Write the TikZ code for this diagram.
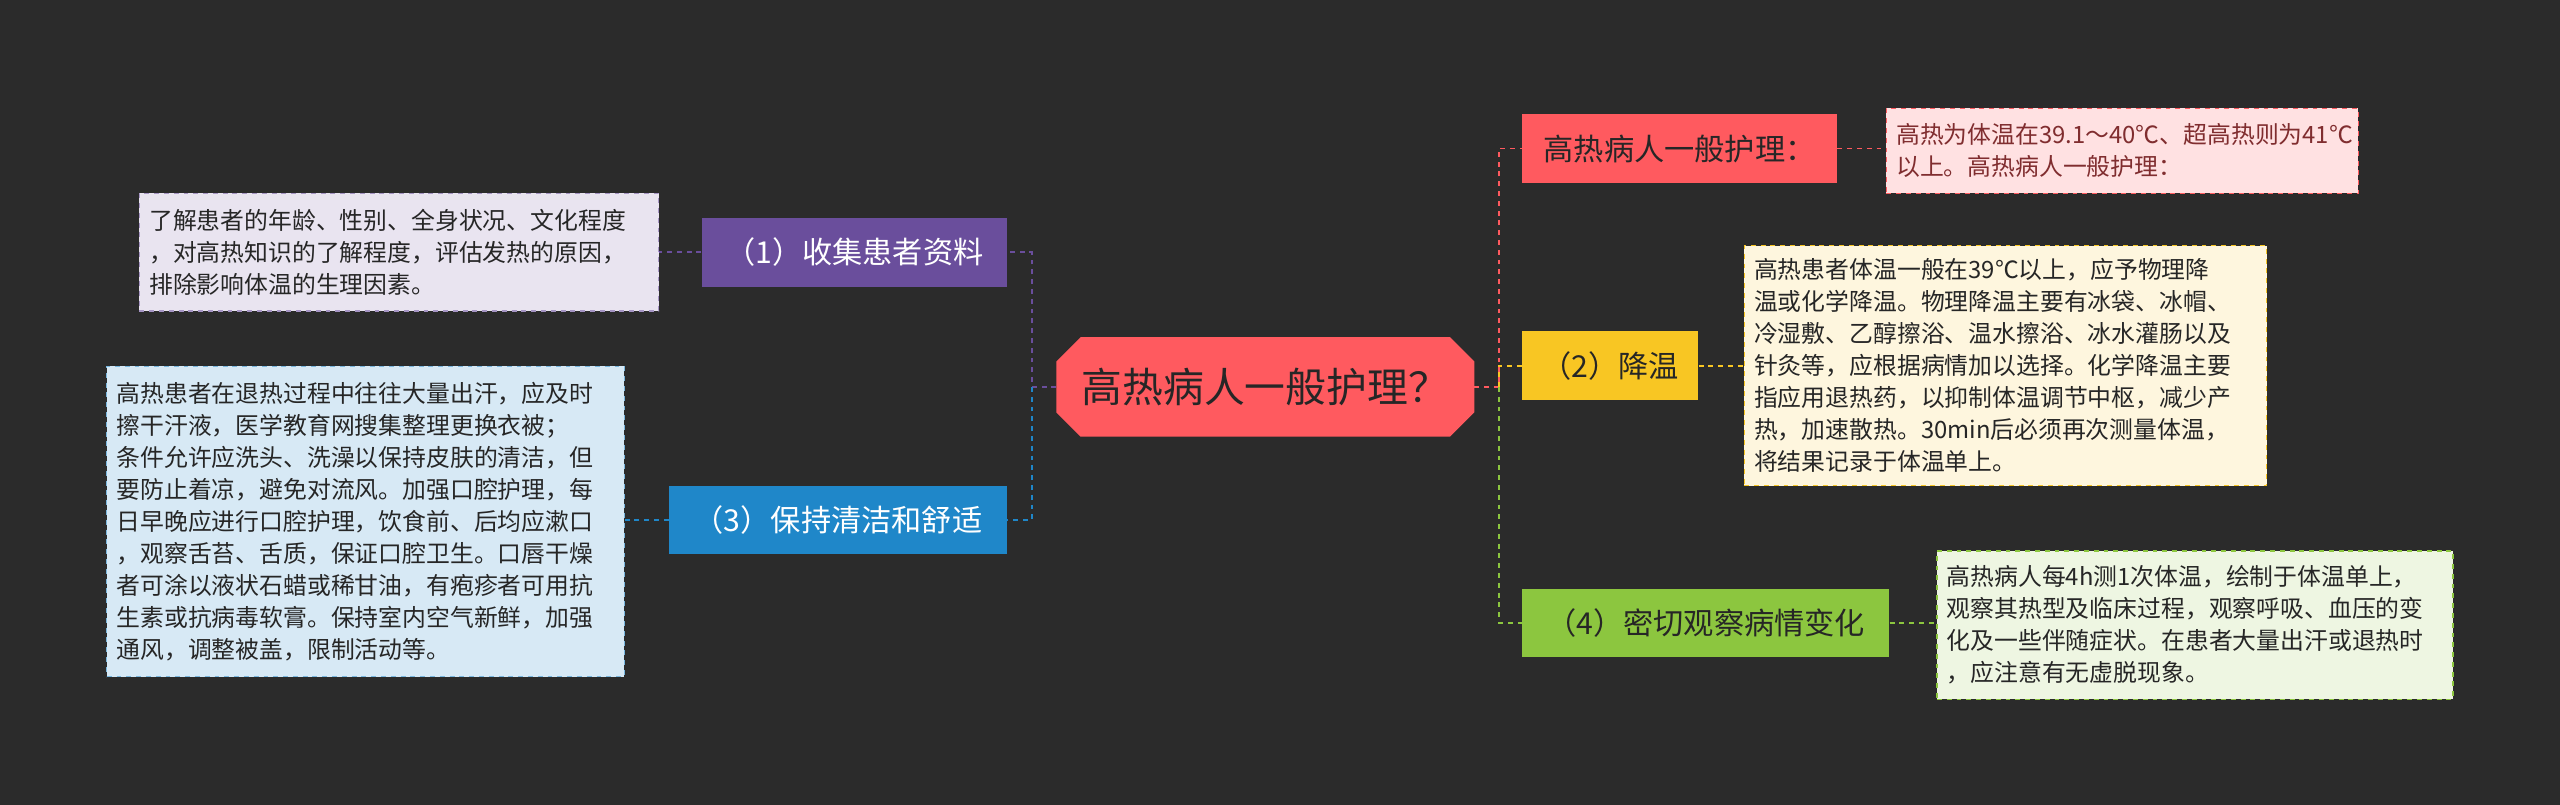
\documentclass[tikz,border=0pt]{standalone}
\usepackage{fontspec}
\setmainfont{Noto Sans CJK SC}
\usetikzlibrary{shapes.misc}
\definecolor{bg}{HTML}{2B2B2B}
\definecolor{cred}{HTML}{FF5A5F}
\definecolor{cyel}{HTML}{F8C623}
\definecolor{cgrn}{HTML}{8CC63F}
\definecolor{cpur}{HTML}{6A4E9C}
\definecolor{cblu}{HTML}{1F87C9}
\tikzset{
 br/.style={minimum height=42pt,inner sep=4pt,font=\fontsize{18.5}{20}\selectfont,anchor=west},
 lf/.style={draw,dashed,line width=0.8pt,align=left,inner xsep=6pt,inner ysep=6pt,font=\fontsize{14.6}{19.6}\selectfont,text=black!85,anchor=north west},
 cn/.style={dashed,line width=1pt}
}
\begin{document}
\begin{tikzpicture}[x=1pt,y=-1pt]
\fill[bg] (0,0) rectangle (1568,493);
\useasboundingbox (0,0) rectangle (1568,493);
\node[chamfered rectangle,chamfered rectangle xsep=11pt,fill=cred,draw=cred,line width=1pt,minimum width=255pt,minimum height=60pt,text=black!85,font=\fontsize{25}{27}\selectfont] (c) at (775,237) {高热病人一般护理？};
% right
\node[br,fill=cred,text=black!85,minimum width=193pt] (r1) at (932,91) {高热病人一般护理：};
\node[br,fill=cyel,text=black!85,minimum width=108pt] (r2) at (932,224) {（2）降温};
\node[br,fill=cgrn,text=black!85,minimum width=225pt] (r3) at (932,381.5) {（4）密切观察病情变化};
\node[lf,draw=cred,fill=cred!18!white,text=cred!50!black,text width=277pt,minimum height=52pt] (l1) at (1155,66) {高热为体温在39.1～40℃、超高热则为41℃\\以上。高热病人一般护理：};
\node[lf,draw=cyel,fill=cyel!15!white,text width=308pt,minimum height=147pt] (l2) at (1068,150) {高热患者体温一般在39℃以上，应予物理降\\温或化学降温。物理降温主要有冰袋、冰帽、\\冷湿敷、乙醇擦浴、温水擦浴、冰水灌肠以及\\针灸等，应根据病情加以选择。化学降温主要\\指应用退热药，以抑制体温调节中枢，减少产\\热，加速散热。30min后必须再次测量体温，\\将结果记录于体温单上。};
\node[lf,draw=cgrn,fill=cgrn!15!white,text width=304pt,minimum height=91pt] (l3) at (1186,337) {高热病人每4h测1次体温，绘制于体温单上，\\观察其热型及临床过程，观察呼吸、血压的变\\化及一些伴随症状。在患者大量出汗或退热时\\，应注意有无虚脱现象。};
% left
\node[br,fill=cpur,text=white,minimum width=187pt,anchor=east] (p1) at (617,154.5) {（1）收集患者资料};
\node[br,fill=cblu,text=white,minimum width=207pt,anchor=east] (p3) at (617,318.5) {（3）保持清洁和舒适};
\node[lf,draw=cpur!60!white,fill=cpur!15!white,text width=306pt,minimum height=72pt] (q1) at (85,118) {了解患者的年龄、性别、全身状况、文化程度\\，对高热知识的了解程度，评估发热的原因，\\排除影响体温的生理因素。};
\node[lf,draw=cblu!60!white,fill=cblu!18!white,text width=305pt,minimum height=190pt] (q3) at (65,224) {高热患者在退热过程中往往大量出汗，应及时\\擦干汗液，医学教育网搜集整理更换衣被；\\条件允许应洗头、洗澡以保持皮肤的清洁，但\\要防止着凉，避免对流风。加强口腔护理，每\\日早晚应进行口腔护理，饮食前、后均应漱口\\，观察舌苔、舌质，保证口腔卫生。口唇干燥\\者可涂以液状石蜡或稀甘油，有疱疹者可用抗\\生素或抗病毒软膏。保持室内空气新鲜，加强\\通风，调整被盖，限制活动等。};
% connectors
\coordinate (rj) at (918,237);
\coordinate (lj) at (632,237);
\draw[cn,cred] (c.east) -- (rj) |- (r1.west);
\draw[cn,cyel] (rj) |- (r2.west);
\draw[cn,cgrn] (rj) |- (r3.west);
\draw[cn,cpur] (c.west) -- (lj) |- (p1.east);
\draw[cn,cblu] (lj) |- (p3.east);
\draw[cn,cred] (r1.east) -- (l1.west|-r1.east);
\draw[cn,cyel] (r2.east) -- (l2.west|-r2.east);
\draw[cn,cgrn] (r3.east) -- (l3.west|-r3.east);
\draw[cn,cpur] (p1.west) -- (q1.east|-p1.west);
\draw[cn,cblu] (p3.west) -- (q3.east|-p3.west);
\end{tikzpicture}
\end{document}
